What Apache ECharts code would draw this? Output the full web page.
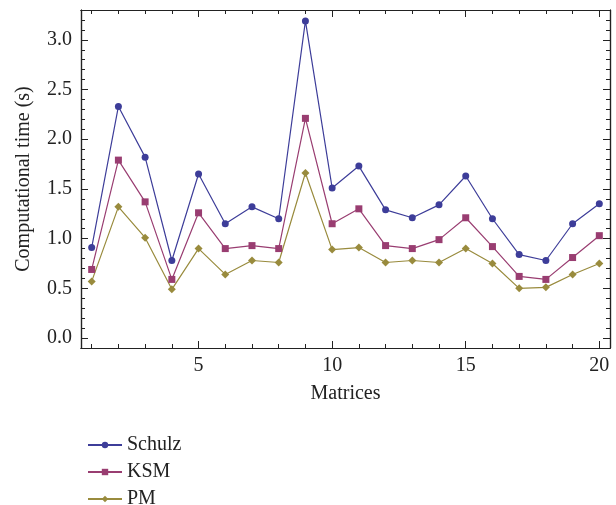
<!DOCTYPE html>
<html>
<head>
<meta charset="utf-8">
<script src="https://cdn.jsdelivr.net/npm/echarts@6/dist/echarts.min.js"></script>
<style>
  html, body { margin: 0; padding: 0; background: #fff; }
  #chart { width: 616px; height: 505px; }
</style>
</head>
<body>
<div id="chart"></div>
<script>
// matrix index on the x axis
const matrices = [1, 2, 3, 4, 5, 6, 7, 8, 9, 10, 11, 12, 13, 14, 15, 16, 17, 18, 19, 20]

// computational time (s) per method
const schulz = [0.91, 2.33, 1.82, 0.78, 1.65, 1.15, 1.32, 1.20, 3.19, 1.51,
  1.73, 1.29, 1.21, 1.34, 1.63, 1.20, 0.84, 0.78, 1.15, 1.35]
const ksm = [0.69, 1.79, 1.37, 0.59, 1.26, 0.90, 0.93, 0.90, 2.21, 1.15,
  1.30, 0.93, 0.90, 0.99, 1.21, 0.92, 0.62, 0.59, 0.81, 1.03]
const pm = [0.57, 1.32, 1.01, 0.49, 0.90, 0.64, 0.78, 0.76, 1.66, 0.89,
  0.91, 0.76, 0.78, 0.76, 0.90, 0.75, 0.50, 0.51, 0.64, 0.75]

// tick positions
const xMajor = [5, 10, 15, 20]
const yMajor = [0, 0.5, 1.0, 1.5, 2.0, 2.5, 3.0]
const yMinor = [-0.1, 0.1, 0.2, 0.3, 0.4, 0.6, 0.7, 0.8, 0.9, 1.1, 1.2, 1.3, 1.4,
  1.6, 1.7, 1.8, 1.9, 2.1, 2.2, 2.3, 2.4, 2.6, 2.7, 2.8, 2.9, 3.1, 3.2]

const font = 'Liberation Serif'
const ink = '#222'
const fs = 20

const chart = echarts.init(document.getElementById('chart'))

// grid 0 carries the data + major ticks, grid 1 (same box) only the minor ticks
function xAx(grid, pos, values, len, opts) {
  return Object.assign({
    type: 'value',
    gridIndex: grid,
    position: pos,
    min: 0.6,
    max: 20.4,
    splitLine: { show: false },
    axisLine: { show: true, onZero: false, lineStyle: { color: ink, width: 1.2 } },
    axisTick: { show: true, inside: true, length: len, customValues: values, lineStyle: { color: ink, width: 1 } },
    axisLabel: { show: false }
  }, opts || {})
}

function yAx(grid, pos, values, len, opts) {
  return Object.assign({
    type: 'value',
    gridIndex: grid,
    position: pos,
    min: -0.1,
    max: 3.3,
    splitLine: { show: false },
    axisLine: { show: true, onZero: false, lineStyle: { color: ink, width: 1.2 } },
    axisTick: { show: true, inside: true, length: len, customValues: values, lineStyle: { color: ink, width: 1 } },
    axisLabel: { show: false }
  }, opts || {})
}

function line(name, data, color, symbol, size) {
  return {
    name: name,
    type: 'line',
    xAxisIndex: 0,
    yAxisIndex: 0,
    data: matrices.map((m, i) => [m, data[i]]),
    symbol: symbol,
    symbolSize: size,
    itemStyle: { color: color },
    lineStyle: { color: color, width: 1.2 },
    z: 3
  }
}

const box = { left: 81, top: 10, right: 6, bottom: 157 }

const option = {
  animation: false,
  textStyle: { fontFamily: font },
  grid: [Object.assign({}, box), Object.assign({}, box)],
  legend: {
    orient: 'vertical',
    left: 82,
    top: 430,
    height: 100,
    itemWidth: 34,
    itemHeight: 8,
    itemGap: 7,
    textStyle: { fontFamily: font, fontSize: fs, color: ink },
    data: ['Schulz', 'KSM', 'PM']
  },
  xAxis: [
    xAx(0, 'bottom', xMajor, 7, {
      name: 'Matrices',
      nameLocation: 'middle',
      nameGap: 36,
      nameTextStyle: { fontFamily: font, fontSize: fs, color: ink },
      axisLabel: { show: true, customValues: xMajor, margin: 8, fontFamily: font, fontSize: fs, color: ink }
    }),
    xAx(0, 'top', xMajor, 7),
    xAx(1, 'bottom', matrices, 4),
    xAx(1, 'top', matrices, 4)
  ],
  yAxis: [
    yAx(0, 'left', yMajor, 7, {
      name: 'Computational time (s)',
      nameLocation: 'middle',
      nameGap: 47,
      nameTextStyle: { fontFamily: font, fontSize: fs, color: ink },
      axisLabel: {
        show: true, customValues: yMajor, margin: 9, fontFamily: font, fontSize: fs, color: ink,
        formatter: v => v.toFixed(1)
      }
    }),
    yAx(0, 'right', yMajor, 7),
    yAx(1, 'left', yMinor, 4),
    yAx(1, 'right', yMinor, 4)
  ],
  series: [
    line('Schulz', schulz, '#3d3d99', 'circle', 7),
    line('KSM', ksm, '#993d71', 'rect', 7),
    line('PM', pm, '#998b3d', 'diamond', 8)
  ]
}

chart.setOption(option)
</script>
</body>
</html>
